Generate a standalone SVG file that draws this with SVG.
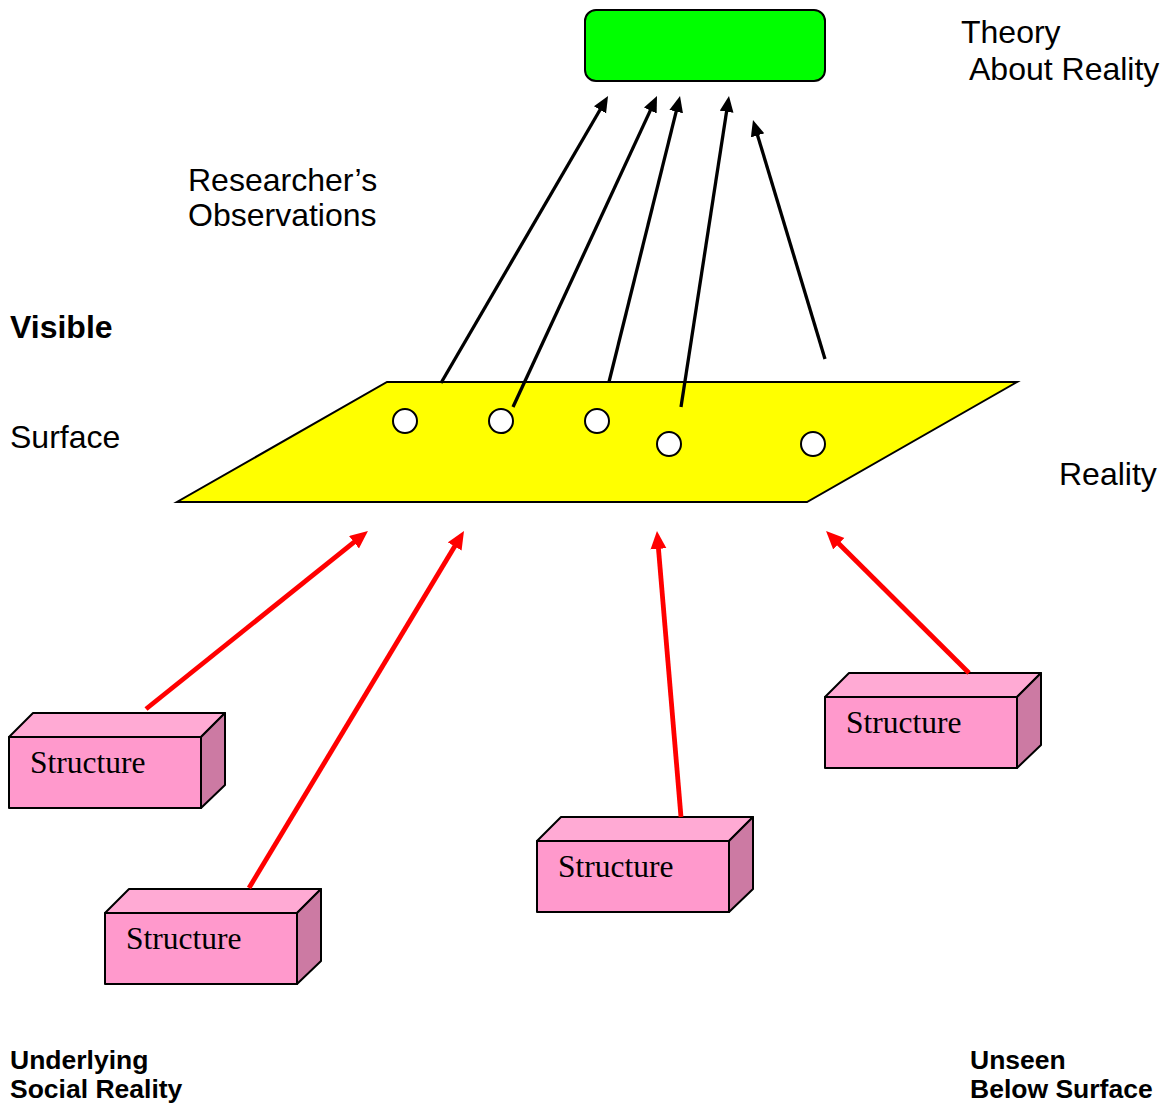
<svg xmlns="http://www.w3.org/2000/svg" width="1167" height="1104" viewBox="0 0 1167 1104">
<style>
.lbl{font-family:"Liberation Sans",Arial,sans-serif;font-size:32px;fill:#000}
.bold{font-family:"Liberation Sans",Arial,sans-serif;font-weight:bold;fill:#000}
.st{font-family:"Liberation Serif","Times New Roman",serif;font-size:31.5px;fill:#000}
.front{fill:#FF99CC;stroke:#000;stroke-width:2;stroke-linejoin:round}
.top{fill:#FFAAD4;stroke:#000;stroke-width:2;stroke-linejoin:round}
.side{fill:#CC7AA3;stroke:#000;stroke-width:2;stroke-linejoin:round}
.blk{stroke:#000;stroke-width:3.3;fill:none;marker-end:url(#ab)}
.red{stroke:#FF0000;stroke-width:4.8;fill:none;marker-end:url(#ar)}
.dot{fill:#fff;stroke:#000;stroke-width:2}
</style>
<defs>
<marker id="ab" markerUnits="userSpaceOnUse" markerWidth="18" markerHeight="16" refX="1" refY="7" orient="auto"><path d="M0,0 L16,7 L0,14 z" fill="#000"/></marker>
<marker id="ar" markerUnits="userSpaceOnUse" markerWidth="20" markerHeight="18" refX="1" refY="8" orient="auto"><path d="M0,0 L18,8 L0,16 z" fill="#FF0000"/></marker>
</defs>
<rect width="1167" height="1104" fill="#fff"/>
<g id="theory"><rect x="585" y="10" width="240" height="71" rx="11" fill="#00FF00" stroke="#000" stroke-width="2"/></g>
<g id="surface">
<polygon points="387,382 1017,382 807,502 177,502" fill="#FFFF00" stroke="#000" stroke-width="2"/>
<circle class="dot" cx="405" cy="421" r="12"/>
<circle class="dot" cx="501" cy="421" r="12"/>
<circle class="dot" cx="597" cy="421" r="12"/>
<circle class="dot" cx="669" cy="444" r="12"/>
<circle class="dot" cx="813" cy="444" r="12"/>
</g>
<g id="structure1">
<polygon class="top" points="9,737 33,713 225,713 201,737"/>
<polygon class="side" points="201,737 225,713 225,785 201,808"/>
<rect class="front" x="9" y="737" width="192" height="71"/>
<text class="st" x="30" y="773">Structure</text>
</g>
<g id="structure2">
<polygon class="top" points="105,913 129,889 321,889 297,913"/>
<polygon class="side" points="297,913 321,889 321,961 297,984"/>
<rect class="front" x="105" y="913" width="192" height="71"/>
<text class="st" x="126" y="949">Structure</text>
</g>
<g id="structure3">
<polygon class="top" points="537,841 561,817 753,817 729,841"/>
<polygon class="side" points="729,841 753,817 753,889 729,912"/>
<rect class="front" x="537" y="841" width="192" height="71"/>
<text class="st" x="558" y="877">Structure</text>
</g>
<g id="structure4">
<polygon class="top" points="825,697 849,673 1041,673 1017,697"/>
<polygon class="side" points="1017,697 1041,673 1041,745 1017,768"/>
<rect class="front" x="825" y="697" width="192" height="71"/>
<text class="st" x="846" y="733">Structure</text>
</g>
<g id="connectors">
<line class="blk" x1="441" y1="383" x2="600.5" y2="109"/>
<line class="blk" x1="513" y1="407" x2="650.7" y2="109.6"/>
<line class="blk" x1="609" y1="382" x2="676.4" y2="110.6"/>
<line class="blk" x1="681" y1="407" x2="726.7" y2="110.8"/>
<line class="blk" x1="825" y1="359" x2="757.3" y2="134.4"/>
<line class="red" x1="146" y1="709" x2="354.7" y2="541.6"/>
<line class="red" x1="249" y1="888" x2="455.2" y2="545.6"/>
<line class="red" x1="681" y1="817" x2="658.4" y2="547.9"/>
<line class="red" x1="969" y1="673" x2="838.1" y2="543"/>
</g>
<g id="labels">
<text class="lbl" x="961" y="43">Theory</text>
<text class="lbl" x="969" y="80">About Reality</text>
<text class="lbl" x="188" y="191">Researcher’s</text>
<text class="lbl" x="188" y="226">Observations</text>
<text class="bold" x="10" y="338" font-size="32">Visible</text>
<text class="lbl" x="10" y="448">Surface</text>
<text class="lbl" x="1059" y="485">Reality</text>
<text class="bold" x="10" y="1069" font-size="26.5">Underlying</text>
<text class="bold" x="10" y="1098" font-size="26.5">Social Reality</text>
<text class="bold" x="970" y="1069" font-size="26.5">Unseen</text>
<text class="bold" x="970" y="1098" font-size="26.5">Below Surface</text>
</g>
</svg>
